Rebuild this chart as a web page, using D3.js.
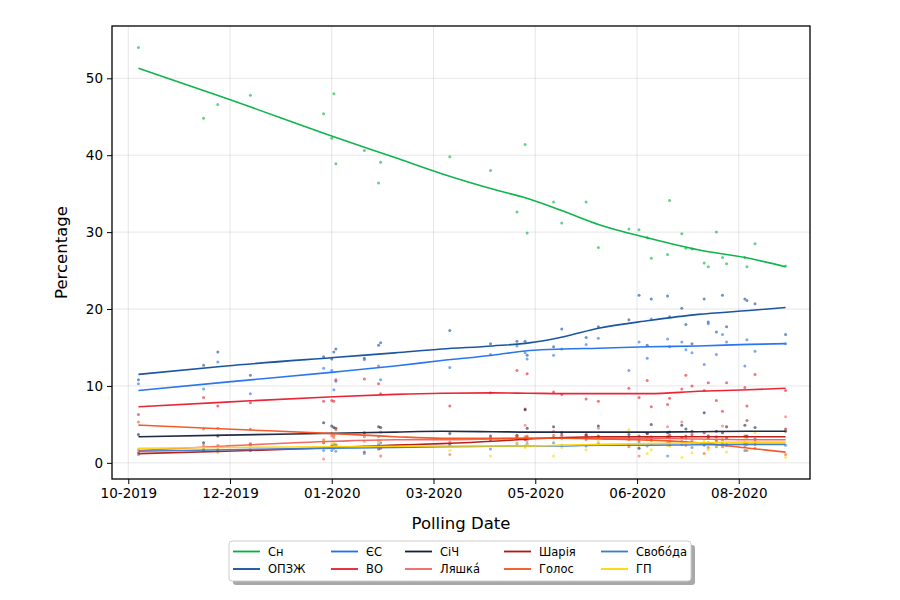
<!DOCTYPE html>
<html>
<head>
<meta charset="utf-8">
<script src="https://cdn.jsdelivr.net/npm/d3@7"></script>
<style>
  html, body { margin: 0; padding: 0; background: #fff; }
  svg { display: block; font-family: "DejaVu Sans", sans-serif; }
</style>
</head>
<body>
<svg id="chart" width="900" height="600"></svg>
<script>
// ---------------- DATA ----------------
const parties = ["Сн", "ОПЗЖ", "ЄС", "ВО", "СіЧ", "Ляшка́", "Шарія", "Голос", "Свобо́да", "ГП"];
const colors  = ["#00b140", "#0f4c9c", "#1f6ff0", "#e8192c", "#14213d", "#f06262", "#b3170f", "#f4511e", "#3a7bd5", "#ffd500"];

const pollDates = [
  "2019-10-22","2019-11-23","2019-11-30","2019-12-16","2020-01-21","2020-01-25","2020-01-26","2020-01-27",
  "2020-02-10","2020-02-17","2020-02-18","2020-03-23","2020-04-12","2020-04-25","2020-04-29","2020-04-30",
  "2020-05-13","2020-05-17","2020-05-29","2020-06-04","2020-06-19","2020-06-24","2020-06-28","2020-06-30",
  "2020-07-08","2020-07-09","2020-07-15","2020-07-17","2020-07-20","2020-07-26","2020-07-28","2020-08-01",
  "2020-08-04","2020-08-06","2020-08-15","2020-08-16","2020-08-20","2020-09-04"
];

const sn     = [54.0,44.8,46.6,47.8,45.4,42.2,48.0,38.9,40.6,36.4,39.1,39.8,38.0,32.6,41.4,29.9,33.9,31.2,33.9,28.0,30.4,30.3,29.3,26.6,27.1,34.1,29.8,27.9,27.8,26.0,25.5,30.0,26.7,25.9,26.7,25.5,28.5,25.6];
const opzzh  = [10.8,12.7,14.4,11.4,13.8,13.5,14.4,14.8,13.6,15.3,15.6,17.2,15.5,15.8,15.8,14.0,15.1,17.4,16.3,17.7,18.6,21.8,15.3,21.3,21.7,19.0,20.1,18.0,15.5,21.3,18.3,17.0,21.8,17.7,21.3,21.1,20.7,16.7];
const es     = [10.3, 9.6,13.1, 9.0,12.3,12.0, 9.5,10.6,13.4,12.6,10.8,12.4,14.1,15.2,14.3,13.5,14.0,14.8,15.4,16.2,12.0,15.7,13.6,18.7,16.1,15.1,15.7,14.7,14.3,12.8,18.1,14.1,16.7,15.7,12.6,16.0,14.5,15.5];
const vo     = [ 6.3, 8.5, 7.4, 7.8, 8.0, 8.1, 8.0,10.8,10.9,10.3, 9.0, 7.4, 9.1,12.0, 7.0,11.6, 9.2, 8.9, 8.3, 8.0, 9.7, 8.5,10.7, 7.3, 7.6, 8.4, 9.6,11.4,10.0, 9.4,10.4, 8.1, 6.7,10.4, 9.8, 7.4,11.5, 9.4];
const sich   = [ 3.7, 2.6, 3.5, 2.4, 5.2, 4.8, 4.6, 4.5, 3.9, 4.7, 4.6, 3.8, 3.5, 3.6, 6.9, 4.5, 4.7, 3.9, 3.6, 4.8, 3.7, 1.9, 3.8, 5.0, 3.9, 4.0, 4.9, 4.4, 4.1, 6.5, 3.5, 4.1, 3.9, 4.7, 4.9, 3.5, 4.6, 4.1];
const lyashko= [ 1.7, 2.3, 2.3, 2.5, 0.5, 3.5, 3.3, 2.4, 2.8, 3.4, 4.0, 1.1, 3.3, 3.3, 4.9, 2.9, 4.1, 3.9, 3.0, 4.5, 3.0, 0.9, 3.0, 3.4, 4.7, 3.2, 5.3, 3.2, 2.9, 2.4, 3.5, 2.9, 4.8, 4.7, 2.6, 3.3, 2.8, 6.0];
const shariy = [ 1.3, 1.6, 1.7, 1.6, 2.6, 2.2, 1.9, 2.3, 1.4, 1.8, 1.9, 2.3, 3.0, 3.4, 3.0, 3.3, 3.3, 3.6, 3.7, 3.5, 3.2, 3.5, 3.8, 3.1, 3.4, 3.6, 3.3, 3.5, 3.7, 3.9, 3.2, 3.4, 3.0, 3.2, 3.5, 5.5, 3.1, 4.4];
const holos  = [ 5.3, 4.4, 4.5, 4.4, 3.0, 3.8, 3.6, 4.3, 3.4, 2.9, 0.9, 2.7, 3.2, 3.5, 3.4, 3.5, 3.6, 3.2, 3.2, 3.4, 2.1, 3.0, 3.3, 2.9, 2.6, 2.7, 2.8, 2.3, 2.6, 1.2, 2.0, 2.9, 2.1, 2.4, 2.2, 1.6, 1.9, 1.1];
const svoboda= [ 1.1, 1.8, 1.5, 1.7, 1.6, 1.6, 2.4, 1.5, 1.2, 2.4, 2.6, 2.3, 1.8, 2.5, 2.2, 2.5, 2.6, 2.3, 2.2, 2.5, 2.4, 2.7, 2.2, 2.4, 0.9, 2.3, 2.4, 2.7, 2.0, 2.3, 2.6, 2.1, 2.5, 2.3, 1.6, 2.4, 2.4, 2.3];
const gp     = [ 1.8, 2.0, 1.3, 2.1, 2.8, 2.5, 2.6, 2.3, 2.2, 2.7, 2.9, 1.6, 0.9, 2.6, 2.0, 2.4, 0.9, 2.0, 1.7, 2.8, 4.3, 2.3, 1.2, 1.7, 2.3, 2.2, 0.7, 2.6, 1.3, 2.8, 1.7, 2.2, 3.0, 1.4, 3.1, 2.6, 3.9, 0.7];

// Smoothed trend values
const trendDates = ["2019-10-22","2019-12-04","2020-01-26","2020-02-25","2020-03-19","2020-04-13","2020-05-01","2020-05-18","2020-06-04","2020-06-29","2020-07-23","2020-08-17","2020-09-04"];
const snTrend      = [51.3,47.4,42.4,39.7,37.6,35.6,34.3,32.7,31.0,29.2,27.7,26.6,25.5];
const opzzhTrend   = [11.5,12.6,13.7,14.3,14.8,15.2,15.6,16.4,17.5,18.5,19.3,19.8,20.2];
const esTrend      = [ 9.4,10.5,11.8,12.6,13.3,14.0,14.6,14.8,14.9,15.1,15.2,15.4,15.5];
const voTrend      = [ 7.3, 7.9, 8.6, 8.9,9.05, 9.1,9.05, 9.0, 9.0, 9.0, 9.3, 9.5, 9.7];
const sichTrend    = [ 3.4, 3.6,3.85, 4.0, 4.1,4.05, 4.0, 4.0, 4.0, 4.0,4.05, 4.1, 4.1];
const lyashkoTrend = [ 1.6, 2.2, 2.8, 3.0, 3.0, 3.1, 3.2, 3.2, 3.2, 3.2, 3.1, 3.0, 3.0];
const shariyTrend  = [ 1.2, 1.5, 2.0, 2.3, 2.5, 2.8, 3.1, 3.3, 3.4, 3.4, 3.4, 3.4, 3.4];
const holosTrend   = [ 4.9, 4.4, 3.8, 3.4, 3.2, 3.2, 3.2, 3.2, 3.1,2.95, 2.6, 1.9, 1.4];
const svobodaTrend = [ 1.5, 1.7, 1.9, 2.0, 2.1,2.15, 2.2, 2.2, 2.3, 2.3,2.35, 2.4, 2.4];
const gpTrend      = [ 1.9, 2.0, 2.1,2.15, 2.2, 2.2, 2.2, 2.3, 2.4, 2.5, 2.6, 2.7, 2.7];

const xTickDates = ["2019-10-17","2019-12-06","2020-01-25","2020-03-15","2020-05-04","2020-06-23","2020-08-12"];
const yTicks = [0, 10, 20, 30, 40, 50];
const xDomain = ["2019-10-09","2020-09-16"];
const yDomain = [-2.1, 56.8];

const seriesValues = [sn, opzzh, es, vo, sich, lyashko, shariy, holos, svoboda, gp];
const seriesTrends = [snTrend, opzzhTrend, esTrend, voTrend, sichTrend, lyashkoTrend, shariyTrend, holosTrend, svobodaTrend, gpTrend];

// ---------------- CHART ----------------
const parse = d3.utcParse("%Y-%m-%d");
const svg = d3.select("#chart");
const M = {left: 112, right: 810, top: 26, bottom: 479};

const x = d3.scaleUtc().domain(xDomain.map(parse)).range([M.left, M.right]);
const y = d3.scaleLinear().domain(yDomain).range([M.bottom, M.top]);

// grid
const grid = svg.append("g");
grid.selectAll("line.gx").data(xTickDates.map(parse)).join("line")
  .attr("x1", d => x(d)).attr("x2", d => x(d)).attr("y1", M.top).attr("y2", M.bottom)
  .attr("stroke", "#b0b0b0").attr("stroke-opacity", 0.3).attr("stroke-width", 1);
grid.selectAll("line.gy").data(yTicks).join("line")
  .attr("x1", M.left).attr("x2", M.right).attr("y1", d => y(d)).attr("y2", d => y(d))
  .attr("stroke", "#b0b0b0").attr("stroke-opacity", 0.3).attr("stroke-width", 1);

const plot = svg.append("g");
// points
seriesValues.forEach((vals, i) => {
  const pts = vals.map((v, j) => ({d: parse(pollDates[j]), v})).filter(p => p.v != null);
  plot.append("g").selectAll("circle").data(pts).join("circle")
    .attr("cx", p => x(p.d)).attr("cy", p => y(p.v)).attr("r", 1.5)
    .attr("fill", colors[i]).attr("fill-opacity", 0.6);
});
// trend lines
const line = d3.line().x(p => x(p.d)).y(p => y(p.v)).curve(d3.curveMonotoneX);
seriesTrends.forEach((tr, i) => {
  const pts = tr.map((v, j) => ({d: parse(trendDates[j]), v}));
  plot.append("path").datum(pts).attr("d", line)
    .attr("fill", "none").attr("stroke", colors[i]).attr("stroke-width", 1.6)
    .attr("stroke-opacity", 0.95);
});

// axes
const xAxis = d3.axisBottom(x).tickValues(xTickDates.map(parse)).tickFormat(d3.utcFormat("%m-%Y"))
  .tickSize(5).tickPadding(4);
const yAxis = d3.axisLeft(y).tickValues(yTicks).tickSize(5).tickPadding(4);
const gx = svg.append("g").attr("transform", `translate(0,${M.bottom})`).call(xAxis);
const gy = svg.append("g").attr("transform", `translate(${M.left},0)`).call(yAxis);
[gx, gy].forEach(g => {
  g.select(".domain").remove();
  g.selectAll(".tick line").attr("stroke", "#000").attr("stroke-width", 1);
  g.selectAll(".tick text").attr("fill", "#000").attr("font-size", "13.5px")
    .attr("font-family", "DejaVu Sans");
});

// frame
svg.append("rect").attr("x", M.left).attr("y", M.top)
  .attr("width", M.right - M.left).attr("height", M.bottom - M.top)
  .attr("fill", "none").attr("stroke", "#000").attr("stroke-width", 1.3);

// axis labels
svg.append("text").attr("x", (M.left + M.right) / 2).attr("y", 529)
  .attr("text-anchor", "middle").attr("font-size", "16.5px").text("Polling Date");
svg.append("text").attr("transform", `translate(67,${(M.top + M.bottom) / 2}) rotate(-90)`)
  .attr("text-anchor", "middle").attr("font-size", "16.5px").text("Percentage");

// legend
const lg = svg.append("g");
const LB = {x: 229, y: 541, w: 462, h: 40};
lg.append("rect").attr("x", LB.x + 4).attr("y", LB.y + 4).attr("width", LB.w).attr("height", LB.h)
  .attr("rx", 3).attr("fill", "#a8a8a8");
lg.append("rect").attr("x", LB.x).attr("y", LB.y).attr("width", LB.w).attr("height", LB.h)
  .attr("rx", 3).attr("fill", "#fff").attr("stroke", "#cccccc").attr("stroke-width", 1);
const colX = [233, 331, 405, 504, 601];
const rowY = [551.5, 569];
parties.forEach((p, i) => {
  const c = Math.floor(i / 2), r = i % 2;
  lg.append("line").attr("x1", colX[c]).attr("x2", colX[c] + 27)
    .attr("y1", rowY[r]).attr("y2", rowY[r]).attr("stroke", colors[i]).attr("stroke-width", 1.8);
  lg.append("text").attr("x", colX[c] + 35).attr("y", rowY[r]).attr("dy", "0.36em")
    .attr("font-size", "11.5px").attr("fill", "#000").text(p);
});
</script>
</body>
</html>
